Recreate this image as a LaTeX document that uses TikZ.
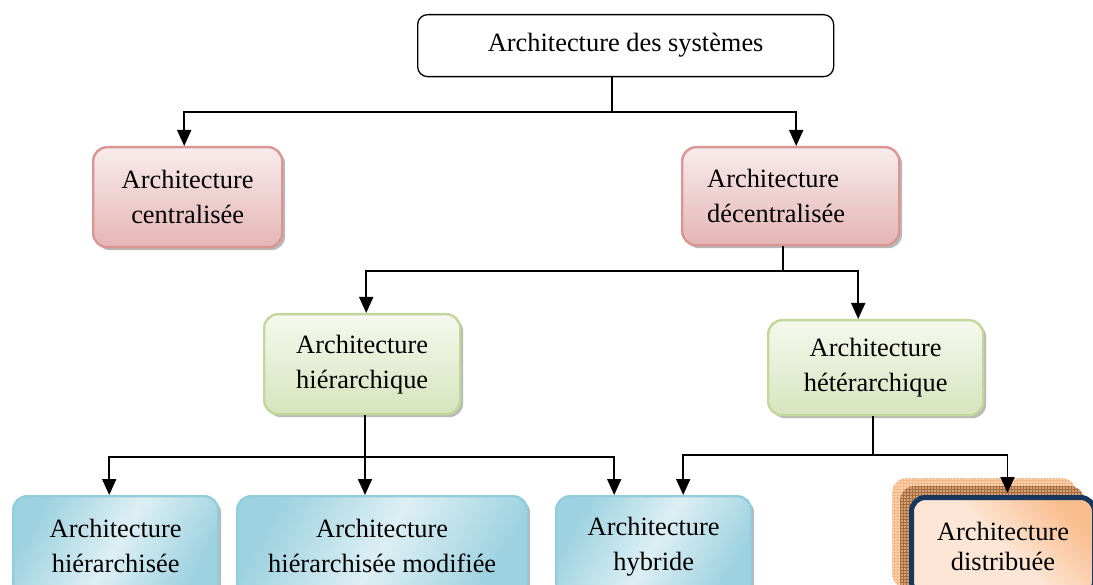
\documentclass[tikz,border=0pt]{standalone}
\usepackage{fontspec}
\setmainfont{Liberation Serif}
\usetikzlibrary{calc,arrows.meta,shadows,patterns}

\definecolor{pinkline}{HTML}{D99694}
\definecolor{pinktop}{HTML}{F8ECEC}
\definecolor{pinkbot}{HTML}{E4B5B4}
\definecolor{greenline}{HTML}{C3D69B}
\definecolor{greentop}{HTML}{F5F9EE}
\definecolor{greenbot}{HTML}{D7E4BD}
\definecolor{blueline}{HTML}{93CDDD}
\definecolor{blueedge}{HTML}{9DD2E0}
\definecolor{bluemid}{HTML}{DDEFF4}
\definecolor{navy}{HTML}{17375E}
\definecolor{orangeedge}{HTML}{F9BE8E}
\definecolor{orangemid}{HTML}{FDE6D6}
\definecolor{orangeback}{HTML}{FBD3B0}
\definecolor{brownback}{HTML}{C98A55}

\tikzset{
  label text/.style={font=\fontsize{26.4}{35}\selectfont, align=center, inner sep=0pt},
  shadowed/.style={drop shadow={shadow xshift=3pt, shadow yshift=-3pt, fill=gray!55, opacity=1}},
  rootbox/.style={label text, draw=black, line width=1.3pt, rounded corners=10pt, fill=white},
  pinkbox/.style={label text, draw=pinkline, line width=2.4pt, rounded corners=14pt,
    top color=pinktop, bottom color=pinkbot, shadowed},
  greenbox/.style={label text, draw=greenline, line width=2.4pt, rounded corners=14pt,
    top color=greentop, bottom color=greenbot, shadowed},
  bluebox/.style={label text, draw=blueline, line width=2.4pt, rounded corners=14pt,
    left color=blueedge, right color=blueedge, middle color=bluemid, shading angle=60, shadowed},
  orangebox/.style={label text, draw=navy, line width=5pt, rounded corners=14pt,
    left color=orangemid, right color=orangeedge, middle color=orangemid, shading angle=135},
  backcopy/.style={rounded corners=14pt, minimum width=184pt, minimum height=110pt, anchor=north west},
  link/.style={draw=black, line width=1.8pt},
  arrow/.style={link, -{Triangle[width=14pt,length=16pt]}},
}

\begin{document}
\begin{tikzpicture}[x=1pt,y=-1pt]
\clip (0,0) rectangle (1093,585);
\fill[white] (0,0) rectangle (1093,585);

% root of the classification
\node[rootbox, minimum width=416pt, minimum height=62pt, anchor=north west] (root) at (417,14)
  {Architecture des systèmes};

% first level
\node[pinkbox, minimum width=189pt, minimum height=100pt, anchor=north west] (cen) at (92,146)
  {Architecture\\centralisée};
\node[pinkbox, minimum width=217pt, minimum height=98pt, anchor=north west, align=left,
  text width=167pt, inner xsep=25pt] (dec) at (681,146)
  {Architecture\\décentralisée};

% second level
\node[greenbox, minimum width=196pt, minimum height=100pt, anchor=north west] (hie) at (263,313)
  {Architecture\\hiérarchique};
\node[greenbox, minimum width=215pt, minimum height=95pt, anchor=north west] (het) at (767,319)
  {Architecture\\hétérarchique};

% third level (runs past the lower edge)
\node[bluebox, minimum width=205pt, minimum height=100pt, anchor=north west] (hsee) at (12,495)
  {Architecture\\hiérarchisée};
\node[bluebox, minimum width=290pt, minimum height=100pt, anchor=north west] (hmod) at (236,495)
  {Architecture\\hiérarchisée modifiée};
\node[bluebox, minimum width=195pt, minimum height=100pt, anchor=north west] (hyb) at (555,495)
  {Architecture\\hybride};

% stacked copies behind the distributed box
\node[backcopy, fill=orangeback] (dback) at (892,478) {};
\node[backcopy, pattern=grid, pattern color=orangeedge!90!brown] at (892,478) {};
\node[backcopy, fill=brownback!70!orangeback] (dmid) at (900,486) {};
\node[backcopy, pattern=grid, pattern color=brownback!80!black] at (900,486) {};
\node[orangebox, minimum width=183pt, minimum height=98pt, anchor=north west,
  font=\fontsize{26.4}{30}\selectfont] (dis) at (909,495)
  {Architecture\\distribuée};

% junction points of the connectors
\coordinate (j1) at (612,112);
\coordinate (j2) at (783,271);
\coordinate (j3) at (365,457);
\coordinate (j4) at (873,455);

\draw[link] (root.south -| j1) -- (j1);
\draw[arrow] (j1) -| ($(cen.north)+(-3.5,0)$);
\draw[arrow] (j1) -| ($(dec.north)+(5.5,0)$);

\draw[link] (dec.south -| j2) -- (j2);
\draw[arrow] (j2) -| ($(hie.north)+(4,0)$);
\draw[arrow] (j2) -| ($(het.north)+(-17.5,0)$);

\draw[link] (hie.south -| j3) -- (j3);
\draw[arrow] (j3) -| ($(hsee.north)+(-6.5,0)$);
\draw[arrow] (j3) -- (hmod.north -| j3);
\draw[arrow] (j3) -| ($(hyb.north)+(-39.5,0)$);

\draw[link] (het.south -| j4) -- (j4);
\draw[arrow] (j4) -| ($(hyb.north)+(29.5,0)$);
\draw[arrow] (j4) -| ($(dis.north)+(4.5,-2)$);
\end{tikzpicture}
\end{document}
